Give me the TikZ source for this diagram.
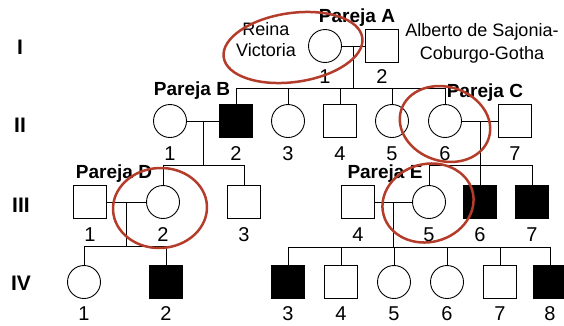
\documentclass[tikz,border=0pt]{standalone}
\usepackage{fontspec}
\setmainfont{Liberation Sans}
\usetikzlibrary{calc}
\definecolor{ellred}{RGB}{180,60,42}
\begin{document}
\begin{tikzpicture}[x=1pt,y=-1pt,
  fem/.style={circle,draw,line width=0.9pt,minimum size=33pt,inner sep=0pt},
  mal/.style={rectangle,draw,line width=0.9pt,minimum size=33pt,inner sep=0pt},
  aff/.style={fill=black},
  num/.style={anchor=base,font=\fontsize{20}{24}\selectfont,inner sep=0pt},
  genlab/.style={font=\bfseries\fontsize{21}{24}\selectfont,inner sep=0pt},
  couple/.style={anchor=base,font=\bfseries\fontsize{19}{22}\selectfont,inner sep=0pt},
  note/.style={align=center,inner sep=0pt},
  lnk/.style={line width=0.9pt},
  ring/.style={draw=ellred,line width=2.5pt}]
\useasboundingbox (0,0) rectangle (564,325);

% generation labels
\node[genlab] (gI) at (20,47) {I};
\node[genlab] (gII) at (20,125) {II};
\node[genlab] (gIII) at (21,205) {III};
\node[genlab] (gIV) at (21,283) {IV};

% couple labels
\node[couple] (pA) at (357,22) {Pareja A};
\node[couple] (pB) at (192,95) {Pareja B};
\node[couple] (pC) at (485,97) {Pareja C};
\node[couple] (pD) at (114,178) {Pareja D};
\node[couple] (pE) at (385,178.5) {Pareja E};

% notes
\node[note,font=\fontsize{18}{21}\selectfont] (rv) at (266,40) {Reina\\Victoria};
\node[note,font=\fontsize{18}{23}\selectfont] (ab) at (482,43) {Alberto de Sajonia-\\Coburgo-Gotha};

% generation I
\node[fem] (I1) at (325,46) {};
\node[mal] (I2) at (382,46) {};
% generation II
\node[fem] (II1) at (170,121) {};
\node[mal,aff] (II2) at (236,121) {};
\node[fem] (II3) at (288,121) {};
\node[mal] (II4) at (340,121) {};
\node[fem] (II5) at (392,121) {};
\node[fem] (II6) at (445,121) {};
\node[mal] (II7) at (515,121) {};
% generation III
\node[mal] (III1) at (90,202) {};
\node[fem] (III2) at (163,202) {};
\node[mal] (III3) at (244,202) {};
\node[mal] (III4) at (358,202) {};
\node[fem] (III5) at (429,202) {};
\node[mal,aff] (III6) at (480,202) {};
\node[mal,aff] (III7) at (532,202) {};
% generation IV
\node[fem] (IV1) at (84,282) {};
\node[mal,aff] (IV2) at (166,282) {};
\node[mal,aff] (IV3) at (288,282) {};
\node[mal] (IV4) at (341,282) {};
\node[fem] (IV5) at (394,282) {};
\node[fem] (IV6) at (447,282) {};
\node[mal] (IV7) at (500,282) {};
\node[mal,aff] (IV8) at (550,282) {};

% numbers
\node[num] (nI1) at (325,83) {1};
\node[num] (nI2) at (382,83) {2};
\foreach \n/\x in {1/170,2/236,3/288,4/340,5/392,6/445,7/515}
  \node[num] (nII\n) at (\x,160) {\n};
\foreach \n/\x in {1/90,2/163,3/244,4/358,5/429,6/480,7/532}
  \node[num] (nIII\n) at (\x,241.5) {\n};
\foreach \n/\x in {1/84,2/166,3/288,4/341,5/394,6/447,7/500,8/550}
  \node[num] (nIV\n) at (\x,320) {\n};

% couple A
\draw[lnk] (I1) -- (I2);
\coordinate (mA) at ($(I1.east)!0.5!(I2.west)$);
\path (mA) ++(0,42) coordinate (sA);
\draw[lnk] (mA) -- (sA);
\draw[lnk] (II2.north) |- (II6.north |- sA) -- (II6.north);
\foreach \n in {II3,II4,II5} \draw[lnk] (\n.north) -- (\n.north |- sA);

% couple B
\draw[lnk] (II1) -- (II2);
\coordinate (mB) at ($(II1.east)!0.5!(II2.west)$);
\path (mB) ++(0,44) coordinate (sB);
\draw[lnk] (mB) -- (sB);
\draw[lnk] (III2.north) |- (III3.north |- sB) -- (III3.north);

% couple C
\draw[lnk] (II6) -- (II7);
\coordinate (mC) at ($(II6.east)!0.5!(II7.west)$);
\path (mC) ++(0,44) coordinate (sC);
\draw[lnk] (mC) -- (sC);
\draw[lnk] (III5.north) |- (III7.north |- sC) -- (III7.north);
\draw[lnk] (III6.north) -- (III6.north |- sC);

% couple D
\draw[lnk] (III1) -- (III2);
\coordinate (mD) at ($(III1.east)!0.5!(III2.west)$);
\path (mD) ++(0,44) coordinate (sD);
\draw[lnk] (mD) -- (sD);
\draw[lnk] (IV1.north) |- (IV2.north |- sD) -- (IV2.north);

% couple E
\draw[lnk] (III4) -- (III5);
\coordinate (mE) at ($(III4.east)!0.5!(III5.west)$);
\path (mE) ++(0,45) coordinate (sE);
\draw[lnk] (mE) -- (sE);
\draw[lnk] (IV3.north) |- (IV8.north |- sE) -- (IV8.north);
\foreach \n in {IV4,IV5,IV6,IV7} \draw[lnk] (\n.north) -- (\n.north |- sE);

% red rings
\draw[ring, rotate around={8:(293,47.5)}] (293,47.5) ellipse [x radius=70, y radius=34.5];
\draw[ring, rotate around={-18:(445,124)}] (445,124) ellipse [x radius=46, y radius=37];
\draw[ring, rotate around={3:(160,208)}] (160,208) ellipse [x radius=47, y radius=40];
\draw[ring, rotate around={15:(428,203)}] (428,203) ellipse [x radius=46, y radius=39];
\end{tikzpicture}
\end{document}
